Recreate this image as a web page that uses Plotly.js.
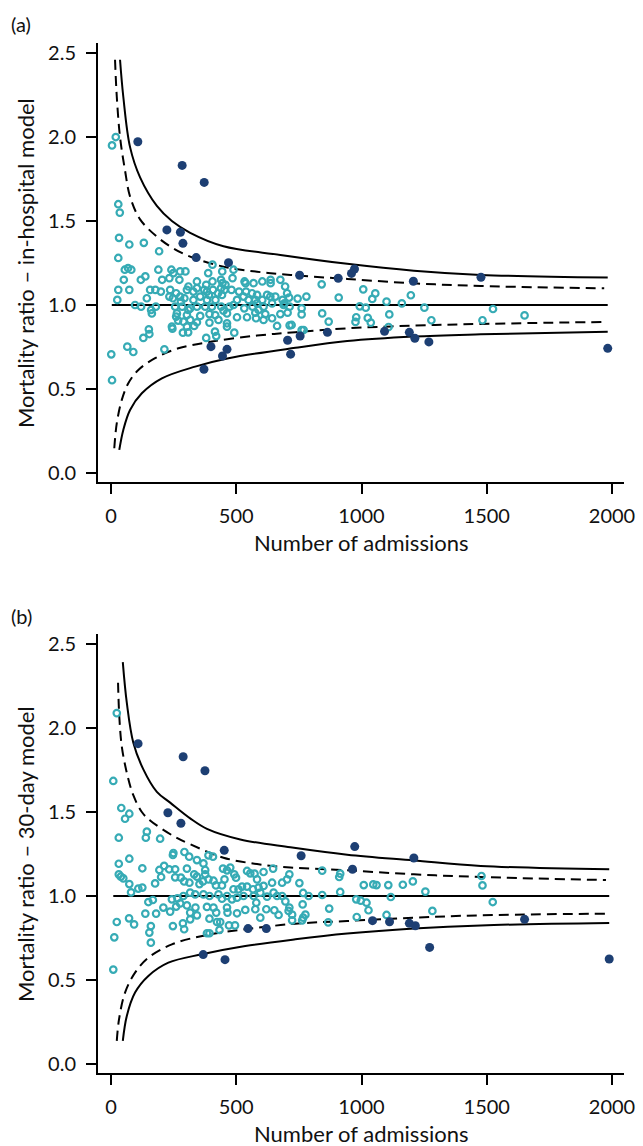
<!DOCTYPE html>
<html>
<head>
<meta charset="utf-8">
<script src="https://cdn.plot.ly/plotly-3.0.1.min.js"></script>
<style>html,body{margin:0;padding:0;background:#fff;}#chart{width:643px;height:1146px;}</style>
</head>
<body>
<div id="chart"></div>
<script>
// ---------- Panel (a): in-hospital model ----------
const aOpenN = [19,4,29,35,32,73,131,192,405,29,55,68,81,189,241,249,276,297,388,444,489,
  51,119,137,204,233,273,343,405,439,485,533,604,637,676,380,445,457,537,569,637,309,695,
  29,73,156,177,199,236,260,303,329,343,372,383,407,427,439,453,481,511,539,563,583,623,703,
  233,247,25,143,276,293,356,391,417,443,503,529,549,576,604,636,656,685,279,383,329,
  96,120,179,256,284,316,343,376,403,440,473,489,532,565,583,609,643,689,713,
  160,163,309,263,356,393,416,449,463,503,543,576,589,616,643,676,303,
  260,268,316,289,343,393,429,463,579,609,663,713,303,332,243,245,287,308,415,463,151,492,
  153,129,380,420,65,89,213,1,4,
  841,1007,1055,1043,909,1100,1161,1197,1251,1525,1651,1483,1279,993,1017,1111,1025,1037,
  979,976,869,843,1108,761,769,721,692,705,711,745,780,761,761];
const aOpenV = [2.00,1.95,1.60,1.55,1.40,1.36,1.37,1.32,1.24,1.28,1.21,1.22,1.21,1.21,1.21,1.19,1.20,1.20,1.19,1.20,1.21,
  1.15,1.15,1.17,1.15,1.16,1.15,1.14,1.14,1.15,1.16,1.14,1.14,1.15,1.15,1.12,1.13,1.12,1.13,1.13,1.13,1.11,1.11,
  1.09,1.09,1.09,1.09,1.08,1.09,1.07,1.09,1.08,1.10,1.09,1.08,1.09,1.07,1.10,1.09,1.09,1.08,1.08,1.07,1.06,1.06,1.07,
  1.05,1.04,1.03,1.04,1.05,1.04,1.05,1.06,1.03,1.06,1.03,1.05,1.03,1.03,1.03,1.05,1.05,1.03,1.02,1.03,1.03,
  1.00,0.99,0.99,0.99,0.99,0.98,0.99,0.99,0.99,0.99,0.99,1.00,0.98,0.99,1.01,0.99,1.01,1.00,0.99,
  0.97,0.95,0.97,0.95,0.935,0.946,0.94,0.966,0.95,0.927,0.927,0.954,0.97,0.946,0.921,0.946,0.94,
  0.931,0.907,0.911,0.901,0.897,0.895,0.911,0.891,0.921,0.911,0.875,0.879,0.871,0.875,0.871,0.859,0.835,0.837,0.841,0.871,0.855,0.835,
  0.827,0.804,0.804,0.815,0.752,0.72,0.736,0.706,0.552,
  1.123,1.093,1.069,1.036,1.044,1.02,1.01,1.058,0.984,0.976,0.938,0.909,0.909,0.992,0.984,0.944,0.923,0.895,
  0.927,0.899,0.901,0.95,0.869,0.851,0.851,0.881,1.01,0.954,1.044,1.038,1.05,0.98,0.944];
const aOutN = [107,284,372,223,277,287,340,469,753,907,960,972,1207,1477,
  399,463,445,371,705,717,755,864,1092,1191,1213,1269,1983];
const aOutV = [1.972,1.831,1.730,1.447,1.433,1.367,1.282,1.252,1.177,1.159,1.188,1.214,1.141,1.165,
  0.752,0.736,0.696,0.617,0.79,0.707,0.815,0.837,0.843,0.837,0.802,0.78,0.742];
// control limits
const aUp998N = [36,49,76,116,183,243,316,449,676,943,1209,1476,1983];
const aUp998V = [2.46,2.24,1.94,1.76,1.59,1.50,1.43,1.35,1.298,1.245,1.204,1.179,1.163];
const aUp95N  = [16,23,36,56,76,116,183,249,316,449,583,716,943,1209,1476,1969];
const aUp95V  = [2.46,2.24,2.0,1.80,1.645,1.51,1.407,1.337,1.288,1.228,1.198,1.179,1.155,1.129,1.113,1.099];
const aLo95N  = [13,23,43,69,109,176,269,403,583,736,943,1209,1476,1969];
const aLo95V  = [0.147,0.296,0.435,0.534,0.613,0.683,0.742,0.782,0.818,0.838,0.861,0.877,0.887,0.899];
const aLo998N = [33,49,76,123,203,336,469,736,943,1209,1476,1983];
const aLo998V = [0.137,0.256,0.375,0.474,0.563,0.633,0.683,0.745,0.785,0.812,0.825,0.841];
const aRefN = [3,1983];
const aRefV = [1,1];

// ---------- Panel (b): 30-day model ----------
const bOpenN = [23,9,41,73,56,
  31,143,139,196,247,249,293,312,343,389,407,369,31,73,125,31,39,49,73,80,109,125,176,200,193,212,232,256,303,
  256,279,292,313,332,343,353,376,376,367,389,409,419,443,453,447,463,476,492,499,489,509,523,543,556,573,583,
  609,647,643,683,703,712,543,567,589,596,609,649,663,683,623,569,529,503,483,463,429,443,393,369,336,316,289,
  265,243,167,149,209,236,260,276,303,316,337,343,383,393,409,420,423,436,463,465,503,536,576,580,596,620,652,
  669,712,137,180,72,92,159,153,159,247,287,292,316,383,393,433,471,495,23,13,9,
  843,911,915,752,1009,1047,1060,1107,1165,1205,1479,1483,1255,1524,767,789,843,915,696,1117,979,997,1020,
  765,1028,871,1283,709,723,776,767,763,723,867,981,1100];
const bOpenV = [2.089,1.685,1.524,1.49,1.46,
  1.347,1.383,1.347,1.341,1.244,1.256,1.262,1.234,1.214,1.242,1.234,1.194,1.192,1.222,1.165,1.129,1.115,1.105,1.071,1.022,1.044,1.05,1.075,1.113,1.155,1.179,1.159,1.159,1.163,
  1.111,1.109,1.087,1.079,1.129,1.115,1.071,1.155,1.129,1.087,1.099,1.091,1.063,1.063,1.099,1.163,1.153,1.169,1.129,1.109,1.04,1.04,1.056,1.149,1.135,1.133,1.099,
  1.143,1.163,1.079,1.079,1.099,1.129,1.056,1.04,1.05,1.02,1.06,1.02,1.0,1.0,0.996,1.0,1.0,0.99,0.98,1.0,1.01,0.984,1.0,1.01,1.01,1.02,1.0,
  0.986,0.98,0.976,0.964,0.931,0.907,0.937,0.956,0.944,0.901,0.931,0.885,0.935,0.865,0.931,0.901,0.845,0.845,0.931,0.901,0.897,0.917,0.921,0.96,0.871,0.921,0.915,
  0.887,0.931,0.895,0.895,0.867,0.831,0.821,0.782,0.722,0.821,0.837,0.802,0.861,0.778,0.778,0.798,0.825,0.825,0.845,0.754,0.562,
  1.151,1.113,1.133,1.077,1.065,1.069,1.065,1.065,1.067,1.087,1.119,1.063,1.026,0.964,1.018,1.0,1.006,1.024,0.968,0.994,0.98,0.972,0.96,
  0.95,0.915,0.925,0.911,0.911,0.889,0.889,0.871,0.855,0.855,0.843,0.875,0.887];
const bOutN = [108,288,375,227,279,452,759,973,964,1209,
  547,620,368,455,1044,1112,1191,1215,1651,1272,1989];
const bOutV = [1.907,1.829,1.746,1.496,1.433,1.272,1.240,1.294,1.159,1.226,
  0.806,0.806,0.651,0.621,0.853,0.847,0.837,0.823,0.861,0.694,0.625];
const bUp998N = [47,63,89,129,183,236,316,383,516,716,943,1209,1476,1989];
const bUp998V = [2.393,2.151,1.913,1.754,1.62,1.556,1.462,1.40,1.337,1.29,1.246,1.212,1.179,1.159];
const bUp95N  = [28,33,43,63,89,123,156,249,316,449,583,716,943,1209,1476,1976];
const bUp95V  = [2.27,2.07,1.89,1.734,1.60,1.50,1.45,1.357,1.308,1.228,1.19,1.17,1.153,1.129,1.113,1.095];
const bLo95N  = [23,32,56,96,149,243,376,536,736,943,1209,1476,1976];
const bLo95V  = [0.137,0.266,0.425,0.544,0.633,0.712,0.766,0.802,0.835,0.851,0.871,0.885,0.895];
const bLo998N = [47,63,96,149,229,363,536,736,943,1209,1476,1989];
const bLo998V = [0.137,0.286,0.425,0.524,0.603,0.653,0.702,0.742,0.776,0.806,0.825,0.839];
const bRefN = [9,1989];
const bRefV = [1,1];

const xTicks = [0,500,1000,1500,2000];
const yTicks = [0,0.5,1,1.5,2,2.5];
const panelLabels = ['(a)','(b)'];
const yTitles = ['Mortality ratio – in-hospital model','Mortality ratio – 30-day model'];
const xTitle = 'Number of admissions';

const NAVY = '#1d3f73', TEAL = '#36abb5';

function panelTraces(xa, ya, openN, openV, outN, outV, u998N, u998V, u95N, u95V, l95N, l95V, l998N, l998V, refN, refV) {
  const solid = {color:'black', width:2, shape:'spline', smoothing:1};
  const dashed = {color:'black', width:2, shape:'spline', smoothing:1, dash:'10px,6px'};
  return [
    {x:refN, y:refV, mode:'lines', line:{color:'black', width:2}, xaxis:xa, yaxis:ya, hoverinfo:'skip'},
    {x:u998N, y:u998V, mode:'lines', line:solid, xaxis:xa, yaxis:ya},
    {x:l998N, y:l998V, mode:'lines', line:solid, xaxis:xa, yaxis:ya},
    {x:u95N, y:u95V, mode:'lines', line:dashed, xaxis:xa, yaxis:ya},
    {x:l95N, y:l95V, mode:'lines', line:dashed, xaxis:xa, yaxis:ya},
    {x:openN, y:openV, mode:'markers', xaxis:xa, yaxis:ya,
      marker:{symbol:'circle-open', size:6.5, color:TEAL, line:{width:2.2, color:TEAL}}},
    {x:outN, y:outV, mode:'markers', xaxis:xa, yaxis:ya,
      marker:{symbol:'circle', size:9, color:NAVY}}
  ];
}

const data = [].concat(
  panelTraces('x','y', aOpenN,aOpenV,aOutN,aOutV,aUp998N,aUp998V,aUp95N,aUp95V,aLo95N,aLo95V,aLo998N,aLo998V,aRefN,aRefV),
  panelTraces('x2','y2', bOpenN,bOpenV,bOutN,bOutV,bUp998N,bUp998V,bUp95N,bUp95V,bLo95N,bLo95V,bLo998N,bLo998V,bRefN,bRefV)
);

const axBase = {showline:true, linewidth:2, linecolor:'black', ticks:'outside', ticklen:10, tickwidth:2,
  tickcolor:'black', showgrid:false, zeroline:false, tickfont:{size:20, color:'#111'}};
const xAx = (anchor) => Object.assign({}, axBase, {anchor:anchor, range:[-52,2048], tickvals:xTicks,
  ticktext:xTicks.map(String), ticklabelstandoff:5});
const yAx = (anchor, dom) => Object.assign({}, axBase, {anchor:anchor, domain:dom, range:[-0.054,2.56],
  tickvals:yTicks, tickformat:'.1f', ticklabelstandoff:6});

const ann = (text, x, y, size, opts) => Object.assign({text:text, x:x, y:y, xref:'paper', yref:'paper', showarrow:false,
  font:{size:size, color:'#111'}}, opts || {});

const layout = {
  width:643, height:1146,
  margin:{l:98, r:19, t:43, b:73},
  paper_bgcolor:'white', plot_bgcolor:'white',
  showlegend:false,
  font:{family:'Lato, "Open Sans", sans-serif', size:20, color:'#111'},
  xaxis: xAx('y'),
  yaxis: yAx('x', [0.5738, 1]),
  xaxis2: xAx('y2'),
  yaxis2: yAx('x2', [0, 0.4262]),
  annotations: [
    ann(panelLabels[0], -0.169, 1.0184, 20, {xanchor:'left', yanchor:'middle'}),
    ann(panelLabels[1], -0.169, 0.4437, 20, {xanchor:'left', yanchor:'middle'}),
    ann(xTitle, 0.5, 0.5146, 22, {xanchor:'center', yanchor:'middle'}),
    ann(xTitle, 0.5, -0.0592, 22, {xanchor:'center', yanchor:'middle'}),
    ann(yTitles[0], -0.1388, 0.7864, 22, {xanchor:'center', yanchor:'middle', textangle:-90}),
    ann(yTitles[1], -0.1388, 0.2126, 22, {xanchor:'center', yanchor:'middle', textangle:-90})
  ]
};

Plotly.newPlot('chart', data, layout, {staticPlot:true, displayModeBar:false});
</script>
</body>
</html>
